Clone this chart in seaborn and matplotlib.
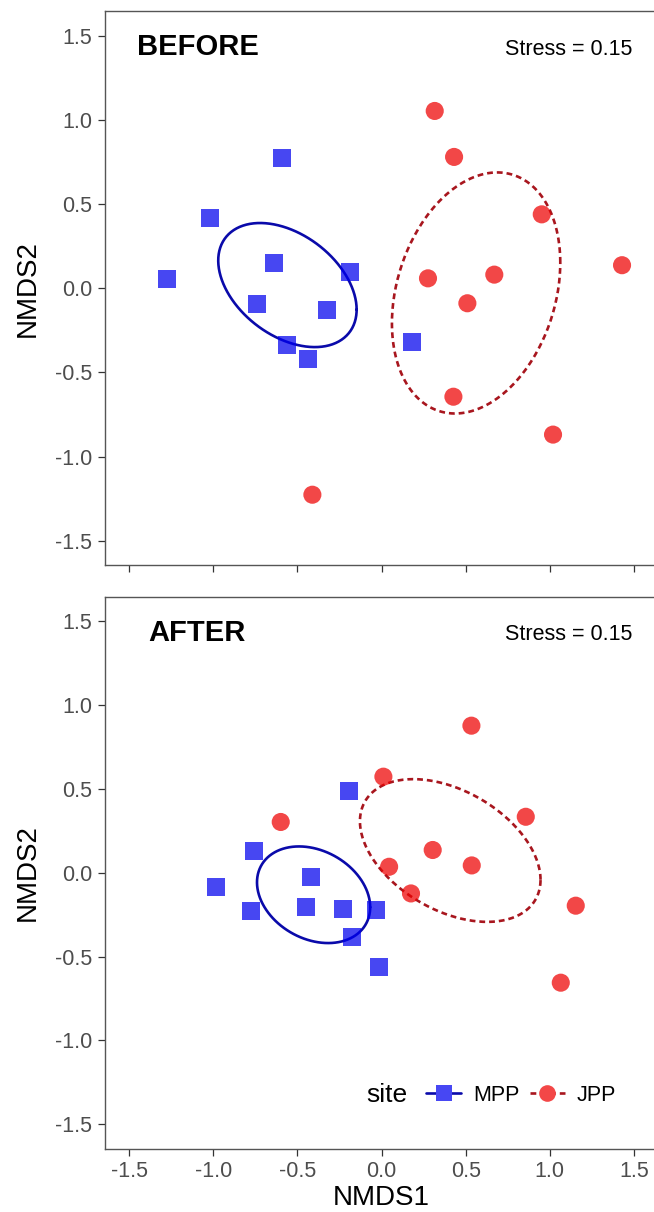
import numpy as np
import pandas as pd
import matplotlib
matplotlib.use("Agg")
import matplotlib.pyplot as plt
import seaborn as sns
from matplotlib.lines import Line2D
from matplotlib.ticker import FormatStrFormatter

sns.set_style("white")
plt.rcParams['font.family'] = ['Liberation Sans', 'DejaVu Sans']
plt.rcParams['axes.unicode_minus'] = False
plt.rcParams['text.color'] = 'black'
plt.rcParams['axes.labelcolor'] = 'black'

# NMDS scores
before_mpp_x = [-0.593, -1.021, -1.273, -0.641, -0.185, -0.738, -0.322, -0.563, -0.437, 0.181]
before_mpp_y = [0.772, 0.419, 0.057, 0.148, 0.095, -0.091, -0.129, -0.337, -0.422, -0.321]
before_jpp_x = [0.316, 0.431, 0.952, 1.429, 0.276, 0.670, 0.510, 0.427, 1.019, -0.411]
before_jpp_y = [1.053, 0.780, 0.439, 0.137, 0.059, 0.081, -0.089, -0.644, -0.869, -1.226]

after_mpp_x = [-0.193, -0.760, -0.985, -0.417, -0.775, -0.451, -0.229, -0.034, -0.177, -0.017]
after_mpp_y = [0.488, 0.129, -0.084, -0.028, -0.231, -0.203, -0.219, -0.223, -0.382, -0.565]
after_jpp_x = [0.534, 0.011, -0.599, 0.857, 0.304, 0.536, 0.045, 0.175, 1.154, 1.065]
after_jpp_y = [0.876, 0.572, 0.302, 0.333, 0.135, 0.043, 0.035, -0.124, -0.197, -0.656]

sites = ['MPP', 'JPP']
panel_names = ['BEFORE', 'AFTER']
stress_values = [0.15, 0.15]
ticks = [-1.5, -1.0, -0.5, 0.0, 0.5, 1.0, 1.5]

point_pal = {'MPP': '#0000EE', 'JPP': '#EE0000'}
point_solid = {'MPP': '#4747F3', 'JPP': '#F34747'}
line_col = {'MPP': '#0A0AAA', 'JPP': '#A8161E'}
line_sty = {'MPP': '-', 'JPP': (0, (2.2, 1.5))}
markers = {'MPP': 's', 'JPP': 'o'}


def make_df(mx, my, jx, jy):
    return pd.DataFrame({'NMDS1': mx + jx, 'NMDS2': my + jy,
                         'site': ['MPP'] * len(mx) + ['JPP'] * len(jx)})


dfs = [make_df(before_mpp_x, before_mpp_y, before_jpp_x, before_jpp_y),
       make_df(after_mpp_x, after_mpp_y, after_jpp_x, after_jpp_y)]

fig = plt.figure(figsize=(6.54, 12.12), dpi=100)
ax1 = fig.add_axes([0.1601, 0.5336, 0.8466, 0.4571])
ax2 = fig.add_axes([0.1601, 0.0523, 0.8466, 0.4554])

for i, (ax, d) in enumerate(zip([ax1, ax2], dfs)):
    # 1-sd ellipse around each site
    tt = np.linspace(0, 2 * np.pi, 300)
    for site in sites:
        sub = d[d['site'] == site]
        c = sub[['NMDS1', 'NMDS2']].mean().values
        L = np.linalg.cholesky(np.cov(sub['NMDS1'], sub['NMDS2']))
        pts = c[:, None] + L @ np.vstack([np.cos(tt), np.sin(tt)])
        ax.plot(pts[0], pts[1], color=line_col[site], ls=line_sty[site], lw=1.9, zorder=2)

    sns.scatterplot(data=d, x='NMDS1', y='NMDS2', hue='site', style='site',
                    palette=point_pal, markers=markers, s=170, linewidth=0,
                    alpha=0.72, legend=False, ax=ax, zorder=3)

    ax.set_xlim(-1.645, 1.645)
    ax.set_ylim(-1.645, 1.645)
    ax.set_xticks(ticks)
    ax.set_yticks(ticks)
    ax.xaxis.set_major_formatter(FormatStrFormatter('%.1f'))
    ax.yaxis.set_major_formatter(FormatStrFormatter('%.1f'))
    ax.tick_params(direction='out', length=5, width=0.9, color='#333333',
                   labelcolor='#4D4D4D', labelsize=15.5, pad=4,
                   bottom=True, left=True)
    for sp in ax.spines.values():
        sp.set_color('#555555')
        sp.set_linewidth(1.0)

    ax.set_ylabel('NMDS2', fontsize=20, color='black')
    ax.yaxis.label.set_va('center')
    ax.yaxis.set_label_coords(-0.1385, 0.5)

    ax.text(-1.453 if i == 0 else -1.387, 1.43, panel_names[i], fontsize=21,
            fontweight='bold', ha='left', va='center', color='black')
    ax.text(1.488, 1.42, 'Stress = %.2f' % stress_values[i], fontsize=15.5,
            ha='right', va='center', color='black')

ax1.set_xlabel('')
ax1.tick_params(labelbottom=False)
ax2.set_xlabel('NMDS1', fontsize=20, color='black')
ax2.xaxis.label.set_va('center')
ax2.xaxis.set_label_coords(0.5, -0.09)

handles = [Line2D([], [], color=line_col[s], ls=line_sty[s], lw=1.9, marker=markers[s],
                  markersize=12, markerfacecolor=point_solid[s], markeredgewidth=0)
           for s in sites]
leg = ax2.legend(handles, sites, ncol=2, frameon=False, loc='center left',
                 bbox_to_anchor=(0.5803, 0.097), handlelength=1.63, handletextpad=0.56,
                 columnspacing=0.47, fontsize=15.5, borderpad=0, borderaxespad=0)
for t in leg.get_texts():
    t.set_color('black')
ax2.text(-0.092, -1.325, 'site', fontsize=19, ha='left', va='center', color='black')

fig.savefig('out.png', dpi=100)
